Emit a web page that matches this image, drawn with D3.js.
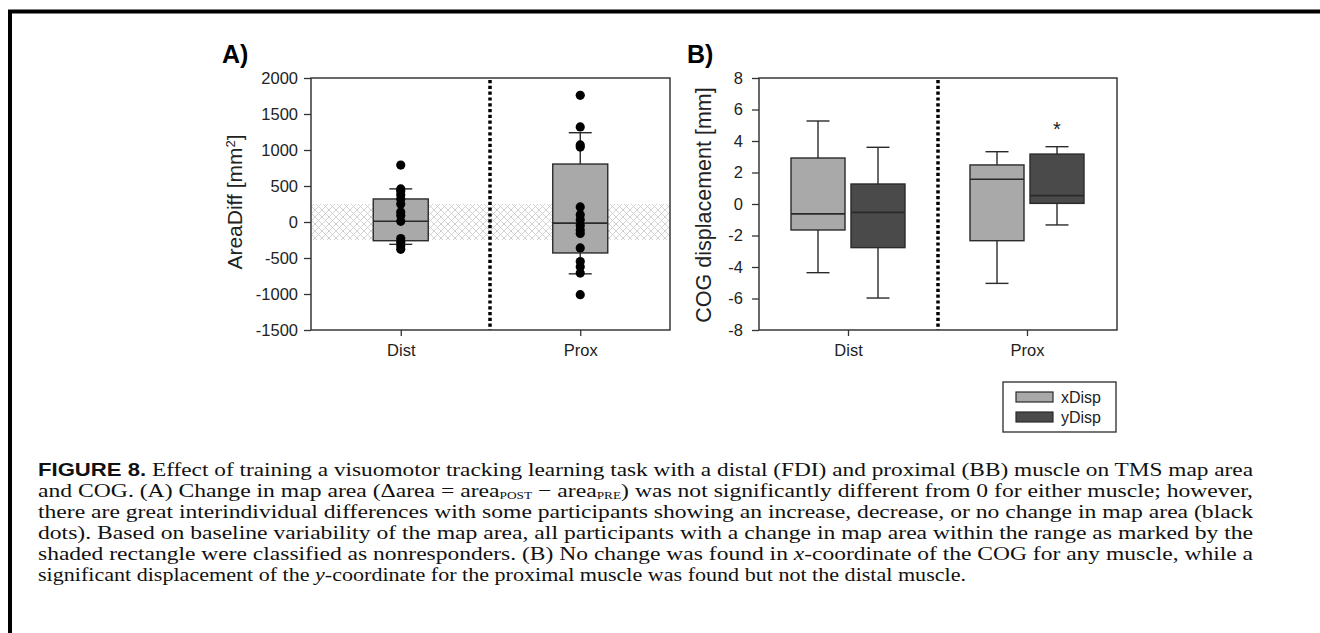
<!DOCTYPE html>
<html><head><meta charset="utf-8">
<script src="https://cdn.jsdelivr.net/npm/d3@7"></script>
<style>
html,body{margin:0;padding:0;background:#fff;}
svg{display:block;}
.ax text{font-family:"Liberation Sans",Arial,sans-serif;font-size:16.5px;fill:#222;}
.ax line{stroke:#333;stroke-width:1.3;}
</style></head><body>
<svg id="c" width="1320" height="633"></svg>
<script>
// ---------- data ----------
const muscles = ["Dist", "Prox"];
const areaTicks = [2000, 1500, 1000, 500, 0, -500, -1000, -1500];
const cogTicks = [8, 6, 4, 2, 0, -2, -4, -6, -8];
// Panel A box stats: [whiskerLow, q1, median, q3, whiskerHigh]
const areaBoxDist = [-310, -260, 10, 320, 460];
const areaBoxProx = [-720, -430, -15, 805, 1240];
const areaDotsDist = [790, 460, 430, 380, 320, 250, 140, 90, 10, -230, -280, -330, -380];
const areaDotsProx = [1760, 1320, 1070, 1040, 210, 100, 30, -50, -110, -160, -360, -550, -620, -710, -1010];
const nonResponderBand = [-250, 250];
// Panel B box stats
const dispSeries = ["xDisp", "yDisp"];
const xDispBoxes = [[-4.36, -1.65, -0.63, 2.92, 5.27], [-5.04, -2.33, 1.57, 2.48, 3.32]];
const yDispBoxes = [[-5.97, -2.77, -0.53, 1.27, 3.60], [-1.33, 0.04, 0.53, 3.17, 3.64]];
const sigMarks = [{muscle: "Prox", series: "yDisp", label: "*"}];

const svg = d3.select("#c");
const INK = "#2a2a2a";
const SANS = "Liberation Sans, Arial, sans-serif";
const FILL = {xDisp: "#a9a9a9", yDisp: "#4a4a4a"};

// outer figure border
svg.append("path").attr("d", "M10,640 L10,11.5 L1330,11.5")
  .attr("fill", "none").attr("stroke", "#000").attr("stroke-width", 4);

// hatch pattern
const defs = svg.append("defs");
const pat = defs.append("pattern").attr("id", "hatch").attr("patternUnits", "userSpaceOnUse")
  .attr("width", 7).attr("height", 7);
pat.append("path").attr("d", "M0,0 L7,7 M7,0 L0,7 M-1,6 L1,8 M6,-1 L8,1 M-1,1 L1,-1 M6,8 L8,6")
  .attr("stroke", "#cdcdcd").attr("stroke-width", 0.9).attr("fill", "none");

function drawBox(g, cx, w, s, y, fill) {
  const cap = 23;
  g.append("line").attr("x1", cx).attr("x2", cx).attr("y1", y(s[0])).attr("y2", y(s[1]))
    .attr("stroke", INK).attr("stroke-width", 1.4);
  g.append("line").attr("x1", cx).attr("x2", cx).attr("y1", y(s[3])).attr("y2", y(s[4]))
    .attr("stroke", INK).attr("stroke-width", 1.4);
  [s[0], s[4]].forEach(v => g.append("line").attr("x1", cx - cap / 2).attr("x2", cx + cap / 2)
    .attr("y1", y(v)).attr("y2", y(v)).attr("stroke", INK).attr("stroke-width", 1.4));
  g.append("rect").attr("x", cx - w / 2).attr("width", w).attr("y", y(s[3])).attr("height", y(s[1]) - y(s[3]))
    .attr("fill", fill).attr("stroke", INK).attr("stroke-width", 1.4);
  g.append("line").attr("x1", cx - w / 2).attr("x2", cx + w / 2).attr("y1", y(s[2])).attr("y2", y(s[2]))
    .attr("stroke", INK).attr("stroke-width", 1.6);
}

function frame(g, x0, x1, y0, y1) {
  g.append("rect").attr("x", x0).attr("y", y0).attr("width", x1 - x0).attr("height", y1 - y0)
    .attr("fill", "none").attr("stroke", INK).attr("stroke-width", 1.4);
}

function xAxis(g, x, yb) {
  const ax = g.append("g").attr("class", "ax").attr("transform", `translate(0,${yb})`)
    .call(d3.axisBottom(x).tickSize(6).tickPadding(8));
  ax.select(".domain").remove();
}
function yAxis(g, y, xl, ticks, pad) {
  const ax = g.append("g").attr("class", "ax").attr("transform", `translate(${xl},0)`)
    .call(d3.axisLeft(y).tickValues(ticks).tickSize(7).tickPadding(pad).tickFormat(d => String(d)));
  ax.select(".domain").remove();
}

// ---------- Panel A ----------
{
  const L = 311, R = 670, T = 78, B = 330;
  const y = d3.scaleLinear().domain([-1500, 2000]).range([B, T]);
  const x = d3.scalePoint().domain(muscles).range([L, R]).padding(0.5);
  const g = svg.append("g");
  g.append("rect").attr("x", L).attr("width", R - L)
    .attr("y", y(nonResponderBand[1])).attr("height", y(nonResponderBand[0]) - y(nonResponderBand[1]))
    .attr("fill", "url(#hatch)");
  g.append("line").attr("x1", 490).attr("x2", 490).attr("y1", T + 2).attr("y2", B)
    .attr("stroke", "#000").attr("stroke-width", 3.5).attr("stroke-dasharray", "3.2,2.6");
  drawBox(g, x("Dist"), 55, areaBoxDist, y, FILL.xDisp);
  drawBox(g, x("Prox"), 55, areaBoxProx, y, FILL.xDisp);
  [[areaDotsDist, "Dist"], [areaDotsProx, "Prox"]].forEach(([arr, m]) => {
    g.selectAll(null).data(arr).enter().append("circle")
      .attr("cx", x(m)).attr("cy", d => y(d)).attr("r", 4.6).attr("fill", "#000");
  });
  frame(g, L, R, T, B);
  yAxis(g, y, L, areaTicks, 6);
  xAxis(g, x, B);
  g.append("text").attr("x", 222).attr("y", 63).text("A)")
    .style("font-family", SANS).style("font-weight", "bold").style("font-size", "25px");
  const t = g.append("text").attr("transform", `translate(242,202) rotate(-90)`)
    .attr("text-anchor", "middle")
    .style("font-family", SANS).style("font-size", "21px").style("fill", "#222");
  t.append("tspan").text("AreaDiff [mm");
  t.append("tspan").attr("baseline-shift", "super").style("font-size", "13px").text("2");
  t.append("tspan").text("]");
}

// ---------- Panel B ----------
{
  const L = 759, R = 1117, T = 78, B = 330;
  const y = d3.scaleLinear().domain([-8, 8]).range([B, T]);
  const x = d3.scalePoint().domain(muscles).range([758.5, 1116.5]).padding(0.5);
  const inner = d3.scaleBand().domain(dispSeries).range([-57, 57]).paddingInner(0.1);
  const g = svg.append("g");
  g.append("line").attr("x1", 938).attr("x2", 938).attr("y1", T + 2).attr("y2", B)
    .attr("stroke", "#000").attr("stroke-width", 3.5).attr("stroke-dasharray", "3.2,2.6");
  muscles.forEach((m, i) => {
    drawBox(g, x(m) + inner("xDisp") + inner.bandwidth() / 2, inner.bandwidth(), xDispBoxes[i], y, FILL.xDisp);
    drawBox(g, x(m) + inner("yDisp") + inner.bandwidth() / 2, inner.bandwidth(), yDispBoxes[i], y, FILL.yDisp);
  });
  sigMarks.forEach(s => {
    const i = muscles.indexOf(s.muscle);
    const box = (s.series === "yDisp" ? yDispBoxes : xDispBoxes)[i];
    g.append("text").attr("x", x(s.muscle) + inner(s.series) + inner.bandwidth() / 2)
      .attr("y", y(box[4]) - 11).attr("text-anchor", "middle").text(s.label)
      .style("font-family", SANS).style("font-size", "20px").style("fill", "#222");
  });
  frame(g, L, R, T, B);
  yAxis(g, y, L, cogTicks, 9);
  xAxis(g, x, B);
  g.append("text").attr("x", 687).attr("y", 63).text("B)")
    .style("font-family", SANS).style("font-weight", "bold").style("font-size", "25px");
  g.append("text").attr("transform", `translate(711,205) rotate(-90)`)
    .attr("text-anchor", "middle").text("COG displacement [mm]")
    .style("font-family", SANS).style("font-size", "21.5px").style("fill", "#222");
  // legend
  const lg = g.append("g");
  lg.append("rect").attr("x", 1003).attr("y", 382).attr("width", 113).attr("height", 50)
    .attr("fill", "#fff").attr("stroke", INK).attr("stroke-width", 1.3);
  dispSeries.forEach((s, i) => {
    lg.append("rect").attr("x", 1016).attr("y", 392 + i * 20).attr("width", 37).attr("height", 10)
      .attr("fill", FILL[s]).attr("stroke", INK).attr("stroke-width", 1.2);
    lg.append("text").attr("x", 1061).attr("y", 403 + i * 20).text(s)
      .style("font-family", SANS).style("font-size", "16px").style("fill", "#222");
  });
}

// ---------- caption ----------
{
  const X0 = 38, W = 1215, Y0 = 476, LH = 21;
  const serif = "Liberation Serif, Times New Roman, serif";
  const lines = [
    [{t: "FIGURE 8.", b: 1}, {t: " Effect of training a visuomotor tracking learning task with a distal (FDI) and proximal (BB) muscle on TMS map area"}],
    [{t: "and COG. (A) Change in map area (\u0394area = area"}, {t: "POST", sub: 1}, {t: " \u2212 area"}, {t: "PRE", sub: 1}, {t: ") was not significantly different from 0 for either muscle; however,"}],
    [{t: "there are great interindividual differences with some participants showing an increase, decrease, or no change in map area (black"}],
    [{t: "dots). Based on baseline variability of the map area, all participants with a change in map area within the range as marked by the"}],
    [{t: "shaded rectangle were classified as nonresponders. (B) No change was found in "}, {t: "x", i: 1}, {t: "-coordinate of the COG for any muscle, while a"}],
    [{t: "significant displacement of the "}, {t: "y", i: 1}, {t: "-coordinate for the proximal muscle was found but not the distal muscle."}]
  ];
  const widths = [W, W, W, W, W, 928];
  const cap = svg.append("g");
  lines.forEach((parts, li) => {
    const tx = cap.append("text").attr("x", X0).attr("y", Y0 + li * LH)
      .style("font-family", serif).style("font-size", "19.5px").style("fill", "#111")
      .attr("textLength", widths[li]).attr("lengthAdjust", "spacingAndGlyphs");
    parts.forEach(p => {
      const ts = tx.append("tspan").text(p.t);
      if (p.b) ts.style("font-family", SANS).style("font-weight", "bold").style("font-size", "18.5px");
      if (p.i) ts.style("font-style", "italic");
      if (p.sub) ts.attr("dy", 2).style("font-size", "11px");
      if (p.t === " \u2212 area" || p.t.startsWith(") was")) ts.attr("dy", -2);
    });
  });
}
</script>
</body></html>
